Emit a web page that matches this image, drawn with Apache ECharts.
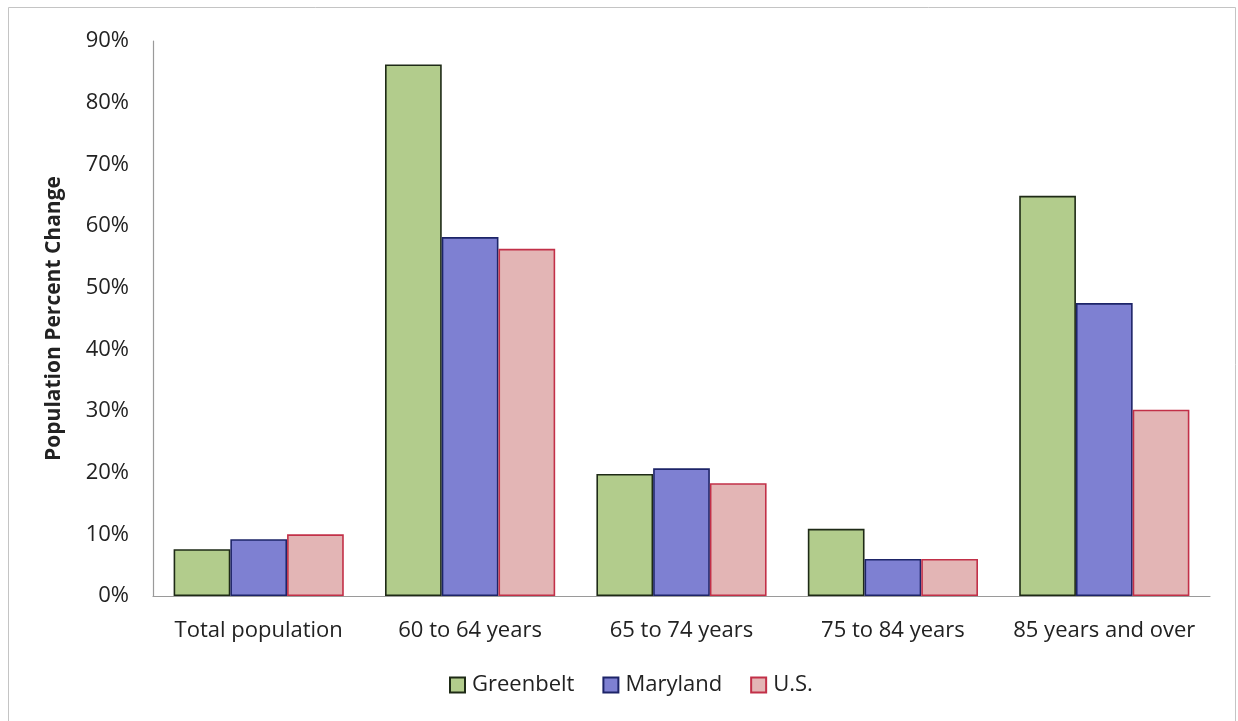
<!DOCTYPE html>
<html>
<head>
<meta charset="utf-8">
<script src="https://cdn.jsdelivr.net/npm/echarts@6/dist/echarts.min.js"></script>
<style>
  html, body { margin: 0; padding: 0; background: #ffffff; }
  #chart { width: 1238px; height: 721px; }
</style>
</head>
<body>
<div id="chart"></div>
<script>
// Age groups along the x axis
const categories = ['Total population', '60 to 64 years', '65 to 74 years', '75 to 84 years', '85 years and over'];

// Population percent change by place (in %)
const greenbelt = [7.6, 86.2, 19.8, 10.9, 64.9];
const maryland  = [9.2, 58.2, 20.7, 6.0, 47.5];
const us        = [10.0, 56.3, 18.3, 6.0, 30.2];

// Y axis range and step (in %)
const yMin = 0;
const yMax = 90;
const yStep = 10;

const FONT = 'Open Sans';
const chart = echarts.init(document.getElementById('chart'), null, { renderer: 'canvas' });

function barSeries(name, data, fill, stroke) {
  return {
    name: name,
    type: 'bar',
    data: data,
    barGap: '0%',
    barCategoryGap: '19.5%',
    itemStyle: { color: fill, borderColor: stroke, borderWidth: 1.6 },
    emphasis: { disabled: true }
  };
}

chart.setOption({
  backgroundColor: '#ffffff',
  animation: false,
  textStyle: { fontFamily: FONT },
  graphic: [{
    type: 'rect',
    shape: { x: 8.5, y: 7.5, width: 1227, height: 720 },
    style: { fill: 'none', stroke: '#c4c4c4', lineWidth: 1 },
    silent: true,
    z: -1
  }],
  grid: { left: 153, right: 28, top: 41, bottom: 125, containLabel: false },
  legend: {
    bottom: 20,
    left: 444,
    itemWidth: 15,
    itemHeight: 15,
    itemGap: 28,
    icon: 'rect',
    textStyle: { fontFamily: FONT, fontSize: 22, color: '#222', padding: [0, 0, 0, 2] },
    data: ['Greenbelt', 'Maryland', 'U.S.']
  },
  xAxis: {
    type: 'category',
    data: categories,
    axisLine: { show: true, lineStyle: { color: '#9a9a9a', width: 1.2 } },
    axisTick: { show: false },
    axisLabel: { color: '#222', fontSize: 22, fontFamily: FONT, margin: 24, interval: 0 }
  },
  yAxis: {
    type: 'value',
    min: yMin,
    max: yMax,
    interval: yStep,
    name: 'Population Percent Change',
    nameLocation: 'middle',
    nameGap: 88,
    nameRotate: 90,
    nameTextStyle: { fontFamily: FONT, fontSize: 21, fontWeight: 'bold', color: '#222' },
    axisLine: { show: true, lineStyle: { color: '#9a9a9a', width: 1.2 } },
    axisTick: { show: false },
    splitLine: { show: false },
    axisLabel: { color: '#222', fontSize: 22, fontFamily: FONT, margin: 24, formatter: '{value}%' }
  },
  series: [
    barSeries('Greenbelt', greenbelt, '#b2cc8c', '#1e2a16'),
    barSeries('Maryland', maryland, '#7e80d2', '#1d2468'),
    barSeries('U.S.', us, '#e3b5b5', '#c23048')
  ]
});
</script>
</body>
</html>
